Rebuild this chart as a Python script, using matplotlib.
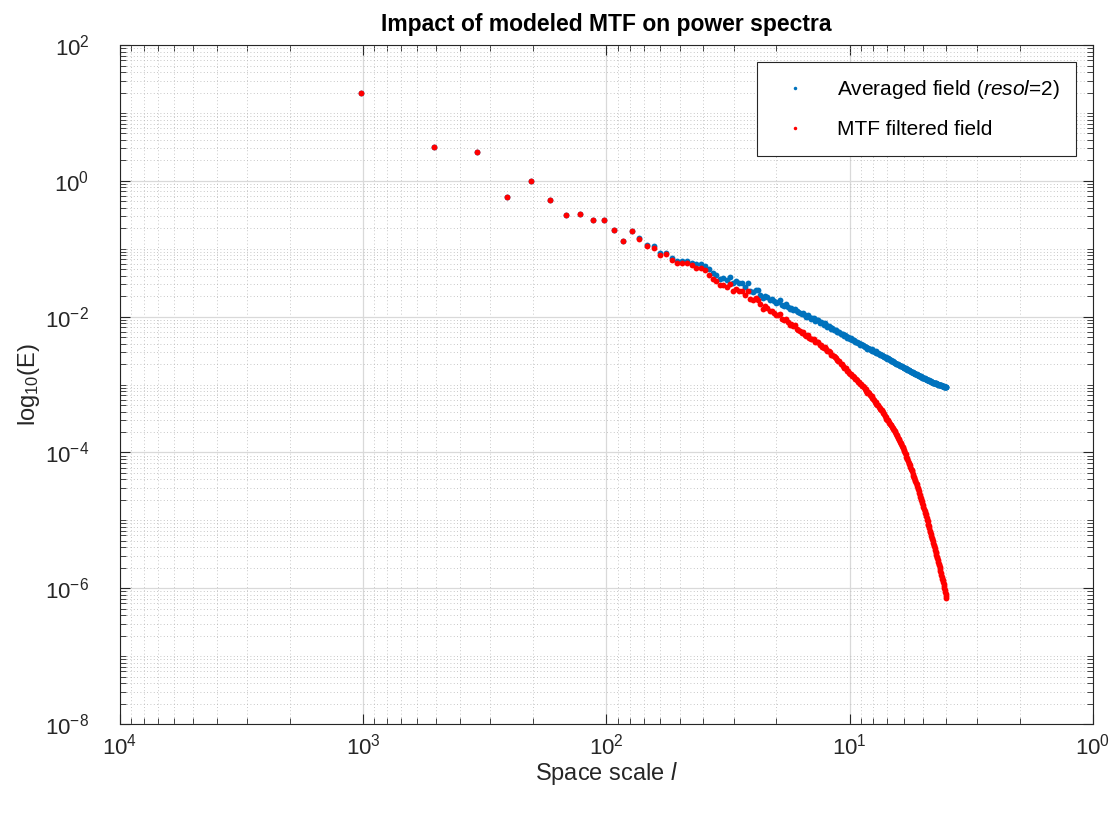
import numpy as np
import matplotlib
matplotlib.use("Agg")
import matplotlib.pyplot as plt
from matplotlib.ticker import LogLocator, NullFormatter

plt.rcParams['font.family'] = ['Liberation Sans', 'DejaVu Sans']
plt.rcParams['mathtext.fontset'] = 'custom'
plt.rcParams['mathtext.rm'] = 'Liberation Sans'
plt.rcParams['mathtext.it'] = 'Liberation Sans:italic'
plt.rcParams['mathtext.bf'] = 'Liberation Sans:bold'

# spectral index k = 1..256, space scale l = 1024 / k
n_pix = 1024
k = np.arange(1, 257)
space_scale = n_pix / k

# log10 of power
log_averaged = [
    1.29, 0.50, 0.42, -0.24, 0.00, -0.28, -0.50, -0.49, -0.58, -0.58, -0.73, -0.88, -0.74, -0.84, -0.95, -0.96,
    -1.06, -1.06, -1.14, -1.18, -1.18, -1.18, -1.21, -1.22, -1.22, -1.25, -1.30, -1.36, -1.39, -1.45, -1.43, -1.46,
    -1.42, -1.51, -1.48, -1.51, -1.50, -1.56, -1.50, -1.62, -1.63, -1.60, -1.61, -1.68, -1.73, -1.70, -1.71, -1.76,
    -1.74, -1.77, -1.80, -1.78, -1.76, -1.83, -1.84, -1.82, -1.86, -1.89, -1.87, -1.90, -1.88, -1.92, -1.93, -1.94,
    -1.96, -1.94, -1.98, -2.00, -1.97, -2.01, -2.03, -2.02, -2.02, -2.06, -2.05, -2.05, -2.09, -2.08, -2.10, -2.12,
    -2.10, -2.13, -2.15, -2.14, -2.15, -2.18, -2.17, -2.19, -2.20, -2.20, -2.22, -2.23, -2.22, -2.25, -2.25, -2.26,
    -2.28, -2.27, -2.28, -2.31, -2.30, -2.32, -2.33, -2.32, -2.35, -2.34, -2.35, -2.37, -2.37, -2.38, -2.39, -2.39,
    -2.41, -2.40, -2.42, -2.42, -2.43, -2.45, -2.44, -2.45, -2.47, -2.46, -2.47, -2.48, -2.49, -2.48, -2.50, -2.50,
    -2.51, -2.52, -2.51, -2.53, -2.54, -2.53, -2.55, -2.55, -2.56, -2.57, -2.56, -2.58, -2.58, -2.59, -2.60, -2.60,
    -2.61, -2.62, -2.61, -2.63, -2.63, -2.64, -2.65, -2.64, -2.66, -2.66, -2.67, -2.67, -2.68, -2.68, -2.69, -2.69,
    -2.70, -2.70, -2.71, -2.71, -2.72, -2.72, -2.73, -2.73, -2.74, -2.74, -2.75, -2.75, -2.76, -2.76, -2.77, -2.77,
    -2.78, -2.78, -2.79, -2.79, -2.80, -2.80, -2.81, -2.81, -2.81, -2.82, -2.83, -2.83, -2.83, -2.84, -2.84, -2.85,
    -2.85, -2.86, -2.86, -2.86, -2.87, -2.87, -2.88, -2.88, -2.88, -2.89, -2.89, -2.90, -2.90, -2.90, -2.91, -2.91,
    -2.92, -2.92, -2.92, -2.93, -2.93, -2.93, -2.94, -2.94, -2.94, -2.95, -2.95, -2.95, -2.95, -2.96, -2.96, -2.96,
    -2.97, -2.97, -2.97, -2.97, -2.98, -2.98, -2.98, -2.98, -2.99, -2.99, -2.99, -2.99, -3.00, -3.00, -3.00, -3.00,
    -3.01, -3.01, -3.01, -3.01, -3.02, -3.02, -3.02, -3.02, -3.02, -3.03, -3.03, -3.03, -3.03, -3.03, -3.04, -3.04,
]

log_mtf = [
    1.29, 0.50, 0.42, -0.24, 0.00, -0.28, -0.50, -0.49, -0.58, -0.58, -0.73, -0.88, -0.74, -0.86, -0.96, -0.99,
    -1.09, -1.08, -1.16, -1.21, -1.21, -1.21, -1.24, -1.29, -1.29, -1.31, -1.38, -1.44, -1.48, -1.54, -1.53, -1.56,
    -1.52, -1.62, -1.59, -1.62, -1.62, -1.68, -1.62, -1.74, -1.76, -1.73, -1.75, -1.82, -1.88, -1.85, -1.87, -1.92,
    -1.91, -1.95, -1.98, -1.97, -1.96, -2.03, -2.05, -2.04, -2.08, -2.12, -2.11, -2.14, -2.13, -2.18, -2.19, -2.21,
    -2.24, -2.22, -2.27, -2.29, -2.27, -2.31, -2.33, -2.33, -2.33, -2.38, -2.37, -2.37, -2.42, -2.41, -2.44, -2.46,
    -2.45, -2.48, -2.51, -2.51, -2.52, -2.56, -2.56, -2.58, -2.60, -2.61, -2.64, -2.65, -2.65, -2.69, -2.70, -2.72,
    -2.75, -2.75, -2.76, -2.80, -2.80, -2.83, -2.84, -2.84, -2.88, -2.87, -2.89, -2.92, -2.92, -2.94, -2.96, -2.96,
    -2.99, -2.99, -3.02, -3.02, -3.04, -3.07, -3.07, -3.09, -3.12, -3.11, -3.13, -3.15, -3.17, -3.17, -3.20, -3.21,
    -3.23, -3.25, -3.25, -3.28, -3.30, -3.30, -3.33, -3.34, -3.36, -3.38, -3.38, -3.41, -3.42, -3.44, -3.47, -3.48,
    -3.50, -3.52, -3.52, -3.55, -3.56, -3.58, -3.60, -3.60, -3.63, -3.64, -3.66, -3.67, -3.69, -3.70, -3.73, -3.74,
    -3.76, -3.78, -3.80, -3.82, -3.84, -3.86, -3.88, -3.90, -3.92, -3.94, -3.97, -3.98, -4.01, -4.03, -4.06, -4.08,
    -4.10, -4.12, -4.15, -4.17, -4.19, -4.21, -4.24, -4.26, -4.28, -4.31, -4.34, -4.36, -4.38, -4.40, -4.42, -4.45,
    -4.47, -4.50, -4.52, -4.54, -4.57, -4.60, -4.63, -4.65, -4.67, -4.70, -4.72, -4.75, -4.78, -4.80, -4.83, -4.86,
    -4.89, -4.91, -4.93, -4.97, -4.99, -5.01, -5.05, -5.07, -5.09, -5.12, -5.15, -5.17, -5.20, -5.23, -5.26, -5.28,
    -5.31, -5.34, -5.36, -5.38, -5.41, -5.44, -5.46, -5.48, -5.51, -5.54, -5.56, -5.58, -5.61, -5.64, -5.66, -5.68,
    -5.72, -5.74, -5.77, -5.80, -5.83, -5.86, -5.88, -5.91, -5.94, -5.97, -6.00, -6.03, -6.06, -6.08, -6.12, -6.15,
]

E_averaged = 10.0 ** np.array(log_averaged)
E_mtf = 10.0 ** np.array(log_mtf)

fig = plt.figure(figsize=(11.17, 8.17), dpi=100)
ax = fig.add_axes([0.1074, 0.1138, 0.871, 0.831])

ax.plot(space_scale, E_averaged, 'o', color='#0072BD', ms=4.2, mew=0,
        label='Averaged field $\\it{(resol}$=$\\it{2)}$')
ax.plot(space_scale, E_mtf, 'o', color='#FF0000', ms=4.2, mew=0,
        label='MTF filtered field')

ax.set_xscale('log')
ax.set_yscale('log')
ax.set_xlim(1e4, 1e0)
ax.set_ylim(1e-8, 1e2)
ax.set_yticks([1e-8, 1e-6, 1e-4, 1e-2, 1e0, 1e2])
ax.xaxis.set_minor_locator(LogLocator(base=10, subs=np.arange(2, 10), numticks=50))
ax.yaxis.set_minor_locator(LogLocator(base=10, subs=np.arange(1, 10), numticks=50))
ax.xaxis.set_minor_formatter(NullFormatter())
ax.yaxis.set_minor_formatter(NullFormatter())

ax.grid(True, which='major', color='#d9d9d9', linestyle='-', linewidth=0.9)
ax.grid(True, which='minor', color='#b5b5b5', linestyle=(0, (1, 3)), linewidth=0.6)
ax.set_axisbelow(True)

ax.tick_params(which='both', direction='in', top=True, right=True, colors='#262626',
               labelsize=16)
ax.tick_params(which='major', length=7, width=0.8)
ax.tick_params(which='minor', length=4, width=0.6)
ax.tick_params(axis='y', which='major', pad=22)
ax.tick_params(axis='x', which='major', pad=7)
for s in ax.spines.values():
    s.set_color('#262626')
    s.set_linewidth(0.8)

ax.set_title('Impact of modeled MTF on power spectra', fontsize=16.5, fontweight='bold', pad=10)
ax.set_xlabel('Space scale $\\it{l}$', fontsize=17, color='#262626', labelpad=0)
ax.set_ylabel('log$_{10}$(E)', fontsize=17, color='#262626', labelpad=2)

leg = ax.legend(loc='upper right', fontsize=15, markerscale=0.6, handlelength=2.0,
                handletextpad=1.0, borderpad=0.8, labelspacing=0.9, fancybox=False,
                framealpha=1, edgecolor='#262626', borderaxespad=0.8)
leg.get_frame().set_linewidth(0.8)

fig.savefig('out.png', dpi=100)
